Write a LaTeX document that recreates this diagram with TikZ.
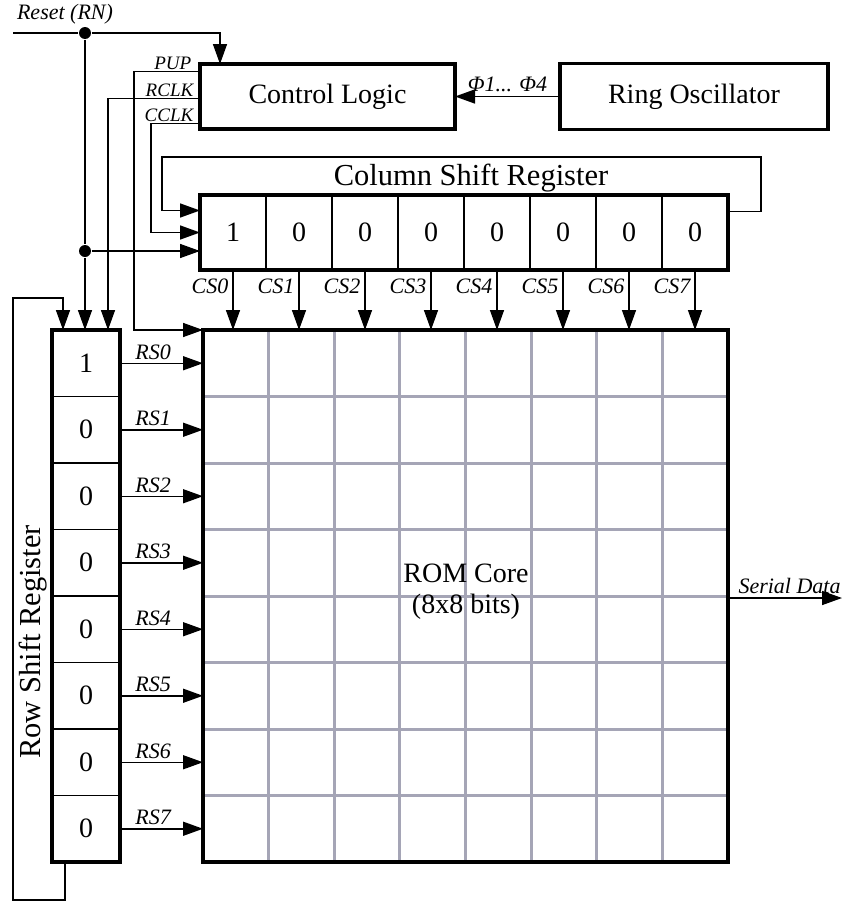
\documentclass[tikz,border=0pt]{standalone}
\usepackage{fontspec}
\setmainfont{Liberation Serif}
\usetikzlibrary{arrows.meta,calc}
\definecolor{gridgray}{RGB}{165,165,182}
\tikzset{
  >={Triangle[length=20pt,width=14pt]},
  blockbox/.style={draw,line width=3.5pt,inner sep=0pt,outer sep=0pt,font=\fontsize{28}{31}\selectfont},
  colcell/.style={draw,line width=1.5pt,inner sep=0pt,outer sep=0pt,minimum width=66pt,minimum height=75pt,font=\fontsize{28}{31}\selectfont},
  rowcell/.style={draw,line width=1.5pt,inner sep=0pt,outer sep=0pt,minimum width=68pt,minimum height=66.5pt,font=\fontsize{28}{31}\selectfont},
  reglabel/.style={font=\fontsize{30.5}{33}\selectfont},
  siglabel/.style={font=\fontsize{22}{24}\selectfont\itshape,inner sep=1pt},
  clklabel/.style={font=\fontsize{19}{21}\selectfont\itshape,inner sep=1pt},
  gridline/.style={draw=gridgray,line width=3pt},
  junction/.style={circle,fill,inner sep=0pt,minimum size=12pt},
}
\begin{document}
\begin{tikzpicture}[x=1pt,y=-1pt,line width=1.5pt]
    \useasboundingbox (0,0) rectangle (842,902);
    % blocks
    \node[blockbox,minimum width=255pt,minimum height=65pt] (ctrl) at (327.5,96.5) {Control Logic};
    \node[blockbox,minimum width=268pt,minimum height=66pt] (ring) at (694,96.5) {Ring Oscillator};
    % column shift register
    \foreach \v [count=\i from 0] in {1,0,0,0,0,0,0,0}
        \node[colcell] (c\i) at (233+66*\i,232.5) {\v};
    \draw[line width=3.5pt] (c0.north west) rectangle (c7.south east);
    \node[reglabel] (csrlabel) at (471,178) {Column Shift Register};
    % row shift register
    \foreach \v [count=\i from 0] in {1,0,0,0,0,0,0,0}
        \node[rowcell] (r\i) at (86,363.25+66.5*\i) {\v};
    \draw[line width=3.5pt] (r0.north west) rectangle (r7.south east);
    \node[reglabel,rotate=90] (rsrlabel) at (33,642) {Row Shift Register};
    % rom core
    \node[blockbox,minimum width=525pt,minimum height=532pt] (rom) at (465.5,596) {};
    \foreach \k in {1,...,7} {
        \draw[gridline] ($(rom.north west)+(65.625*\k,0)$) -- ($(rom.south west)+(65.625*\k,0)$);
        \draw[gridline] ($(rom.north west)+(0,66.5*\k)$) -- ($(rom.north east)+(0,66.5*\k)$);
    }
    \draw[line width=3.5pt] (rom.north west) rectangle (rom.south east);
    \node[align=center,font=\fontsize{28}{31}\selectfont] (romtext) at (466,592) {ROM Core\\(8x8 bits)};
    % reset
    \coordinate (rstin) at (13,33);
    \node[junction] (rdot) at (85,33) {};
    \node[junction] (sdot) at (85,251) {};
    \node[siglabel] (rstlabel) at (65,14) {Reset (RN)};
    \draw (rstin) -- (rdot);
    \draw[->] (rdot) -| ($(ctrl.north west)+(20,0)$);
    \draw (rdot) -- (sdot);
    \draw[->] (sdot) -- (sdot |- r0.north);
    \draw[->] (sdot) -- (sdot -| c0.west);
    % control outputs
    \coordinate (pup) at ($(ctrl.west)+(0,-25)$);
    \coordinate (rclk) at ($(ctrl.west)+(0,2)$);
    \coordinate (cclk) at ($(ctrl.west)+(0,27)$);
    \node[clklabel,anchor=south east] (puplabel) at ($(pup)+(-7,0)$) {PUP};
    \node[clklabel,anchor=south east] (rclklabel) at ($(rclk)+(-5,0)$) {RCLK};
    \node[clklabel,anchor=south east] (cclklabel) at ($(cclk)+(-5,0)$) {CCLK};
    \draw[->] (pup) -- ++(-66,0) |- (rom.north west);
    \draw[->] (rclk) -| ($(r0.north)+(22,0)$);
    \draw[->] (cclk) -- ++(-49,0) |- (c0.west);
    % oscillator
    \draw[->] (ring.west) -- (ring.west -| ctrl.east) node[siglabel,above=3pt,pos=0.5] (philabel) {Φ1... Φ4};
    % feedback loops
    \draw[->] ($(c7.east)+(0,-21)$) -- ++(33,0) |- ($(c0.north west)+(-38,-38)$) |- ($(c0.west)+(0,-22)$);
    \draw[->] ($(r7.south)+(-21,0)$) -- ++(0,38) -| ($(r0.north west)+(-39,-32)$) -| ($(r0.north)+(-23,0)$);
    % select lines
    \foreach \i in {0,...,7} {
        \draw[->] (c\i.south) -- (c\i.south |- rom.north);
        \node[siglabel,anchor=east] (cs\i) at ($(c\i.south)+(-3,16)$) {CS\i};
        \draw[->] (r\i.east) -- (r\i.east -| rom.west) node[siglabel,above=2pt,pos=0.4] (rs\i) {RS\i};
    }
    % output
    \coordinate (sdout) at (842,598);
    \draw[->] (rom.east |- sdout) -- (sdout) node[siglabel,above=3pt,pos=0.54] (sdlabel) {Serial Data};
\end{tikzpicture}
\end{document}
